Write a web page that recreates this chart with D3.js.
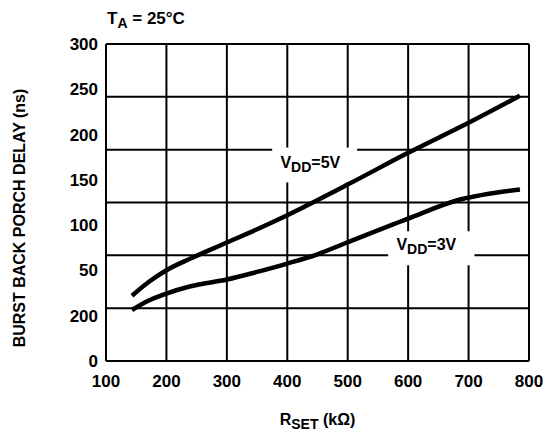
<!DOCTYPE html>
<html lang="en">
<head>
<meta charset="utf-8">
<script src="https://d3js.org/d3.v7.min.js"></script>
<title>Burst Back Porch Delay</title>
<style>
    body { margin: 0; background: #fff; }
    text { font-family: "Liberation Sans", Arial, sans-serif; font-weight: bold; fill: #000; }
</style>
</head>
<body>
<div id="container"></div>
<script>
    // R_SET (kOhm) and delay (ns)
    var rset5 = [143, 170, 200, 240, 300, 350, 400, 500, 600, 700, 785];
    var delay5 = [61.7, 74.5, 85.9, 97, 112.1, 124.7, 138, 167, 197, 225.4, 251];
    var rset3 = [143, 170, 200, 240, 300, 350, 400, 450, 500, 600, 686, 736, 785];
    var delay3 = [48.3, 57, 63.8, 70.7, 77.1, 84.3, 92.2, 101, 112.4, 134.8, 152.8, 158.5, 162.3];
    var xTicks = [100, 200, 300, 400, 500, 600, 700, 800];
    var yGrid = [0, 50, 100, 150, 200, 250, 300];
    // printed labels as they appear (misaligned in the original)
    var yLabels = ["300", "250", "200", "150", "100", "50", "200", "0"];

    var W = 555, H = 434;
    var margin = {top: 44, right: 26, bottom: 73, left: 106};
    var width = W - margin.left - margin.right,
        height = H - margin.top - margin.bottom;

    var svg = d3.select("#container").append("svg")
        .attr("width", W).attr("height", H);
    var g = svg.append("g")
        .attr("transform", "translate(" + margin.left + "," + margin.top + ")");

    var x = d3.scaleLinear().domain([100, 800]).range([0, width]);
    var y = d3.scaleLinear().domain([0, 300]).range([height, 0]);
    var yl = d3.scalePoint().domain(d3.range(yLabels.length)).range([0, height]);

    // grid
    g.append("g").selectAll("line").data(xTicks).enter().append("line")
        .attr("x1", function(d) { return x(d); }).attr("x2", function(d) { return x(d); })
        .attr("y1", 0).attr("y2", height)
        .attr("stroke", "#000").attr("stroke-width", 2);
    g.append("g").selectAll("line").data(yGrid).enter().append("line")
        .attr("x1", 0).attr("x2", width)
        .attr("y1", function(d) { return y(d); }).attr("y2", function(d) { return y(d); })
        .attr("stroke", "#000").attr("stroke-width", 2);

    // x tick labels
    g.append("g").selectAll("text").data(xTicks).enter().append("text")
        .attr("x", function(d) { return x(d); })
        .attr("y", height + 26)
        .attr("text-anchor", "middle")
        .style("font-size", "17px")
        .text(function(d) { return d; });

    // y tick labels
    g.append("g").selectAll("text").data(yLabels).enter().append("text")
        .attr("x", -8)
        .attr("y", function(d, i) { return yl(i); })
        .attr("dy", "0.35em")
        .attr("text-anchor", "end")
        .style("font-size", "17px")
        .text(function(d) { return d; });

    // curve labels with white boxes over the grid
    function vddLabel(xv, yv, volts, bx0, bx1, by0, by1) {
        g.append("rect")
            .attr("x", x(bx0)).attr("width", x(bx1) - x(bx0))
            .attr("y", y(by1)).attr("height", y(by0) - y(by1))
            .attr("fill", "#fff");
        var t = g.append("text").attr("x", x(xv)).attr("y", y(yv)).style("font-size", "16px");
        t.append("tspan").text("V");
        t.append("tspan").attr("dy", 4).style("font-size", "14px").text("DD");
        t.append("tspan").attr("dy", -4).text("=" + volts);
    }
    vddLabel(388.6, 182.5, "5V", 375, 515.6, 169, 202);
    vddLabel(580.6, 104.8, "3V", 567, 709.8, 90.6, 122.8);

    var line = d3.line()
        .x(function(d) { return x(d[0]); })
        .y(function(d) { return y(d[1]); })
        .curve(d3.curveMonotoneX);

    g.append("path")
        .datum(d3.zip(rset5, delay5))
        .attr("d", line)
        .attr("fill", "none").attr("stroke", "#000").attr("stroke-width", 4.5);
    g.append("path")
        .datum(d3.zip(rset3, delay3))
        .attr("d", line)
        .attr("fill", "none").attr("stroke", "#000").attr("stroke-width", 4.5);

    // title
    var tt = svg.append("text").attr("x", 107).attr("y", 24).style("font-size", "17px");
    tt.append("tspan").text("T");
    tt.append("tspan").attr("dy", 4).style("font-size", "14px").text("A");
    tt.append("tspan").attr("dy", -4).text(" = 25°C");

    // axis titles
    var xt = svg.append("text")
        .attr("x", margin.left + width / 2).attr("y", 425)
        .attr("text-anchor", "middle").style("font-size", "16px");
    xt.append("tspan").text("R");
    xt.append("tspan").attr("dy", 4).style("font-size", "14px").text("SET");
    xt.append("tspan").attr("dy", -4).text(" (k\u03A9)");

    svg.append("text")
        .attr("transform", "translate(25,218) rotate(-90)")
        .attr("text-anchor", "middle")
        .style("font-size", "16px")
        .text("BURST BACK PORCH DELAY (ns)");
</script>
</body>
</html>
